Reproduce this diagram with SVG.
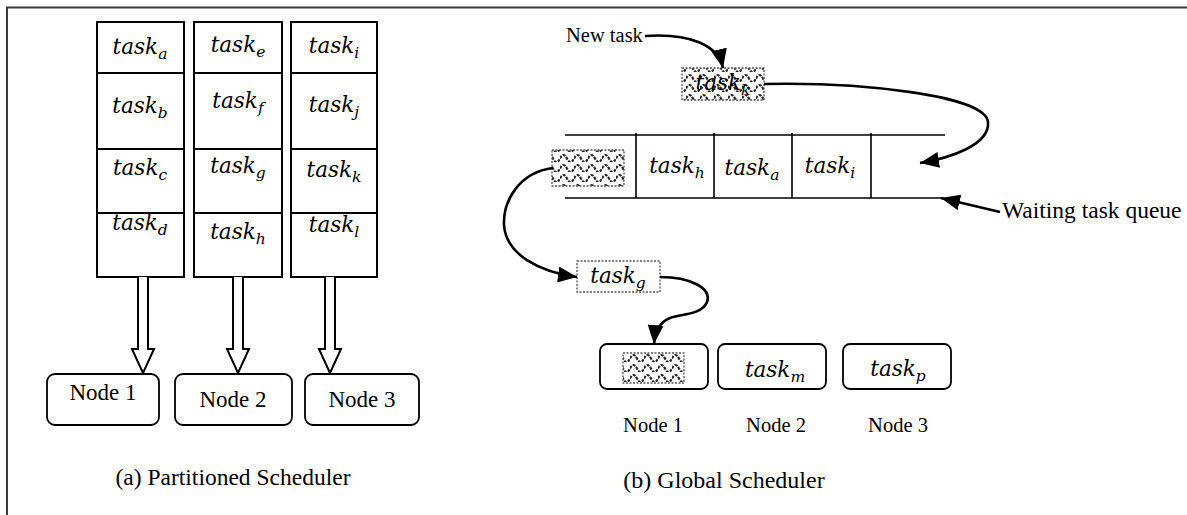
<svg xmlns="http://www.w3.org/2000/svg" width="1187" height="515" viewBox="0 0 1187 515">
  <style>
    .frame { stroke: #3a3a3a; stroke-width: 2; fill: none; }
    .box { fill: #fff; stroke: #000; stroke-width: 2; }
    .line { stroke: #000; stroke-width: 2; fill: none; }
    .thin { stroke: #000; stroke-width: 1.6; fill: none; }
    .node { fill: #fff; stroke: #000; stroke-width: 1.8; }
    .block { fill: #fff; stroke: #000; stroke-width: 2; stroke-linejoin: miter; }
    .dash { stroke: #555; stroke-width: 1.3; stroke-dasharray: 2 1.5; }
    .wave { fill: url(#waves); }
    .conn { stroke: #000; stroke-width: 2.6; fill: none; marker-end: url(#head); }
    .lbl { font-family: "Liberation Serif", "Times New Roman", serif; fill: #000; }
    .math { font-family: "DejaVu Serif", serif; font-style: italic; font-size: 21.5px; fill: #000; text-anchor: middle; }
    .sub { font-size: 15.5px; }
  </style>
  <defs>
    <!-- wavy hatch used for tasks in transit / placeholders -->
    <pattern id="waves" width="14" height="10" patternUnits="userSpaceOnUse" y="2">
      <rect width="14" height="10" fill="#fff"/>
      <path d="M0 6.5 Q3.5 -0.5 7 6.5 T14 6.5" fill="none" stroke="#2a2a2a" stroke-width="2.2" stroke-dasharray="3 1.2"/>
    </pattern>
    <marker id="head" markerWidth="19" markerHeight="16" refX="19" refY="8" orient="auto" markerUnits="userSpaceOnUse">
      <path d="M0,0 L19,8 L0,16 z" fill="#000"/>
    </marker>
  </defs>

  <!-- outer frame (top and left edges) -->
  <path class="frame" d="M7 515 V7.5 H1187"/>

  <!-- ===== (a) Partitioned scheduler ===== -->
  <g id="queue-node1">
    <rect class="box" x="97" y="22" width="87" height="255"/>
    <path class="line" d="M97 73 H184 M97 149 H184 M97 213 H184"/>
    <text class="math" x="140" y="54">task<tspan class="sub" dy="5">a</tspan></text>
    <text class="math" x="140" y="113">task<tspan class="sub" dy="5">b</tspan></text>
    <text class="math" x="140" y="175">task<tspan class="sub" dy="5">c</tspan></text>
    <text class="math" x="140" y="230">task<tspan class="sub" dy="5">d</tspan></text>
  </g>
  <g id="queue-node2">
    <rect class="box" x="194" y="22" width="88" height="255"/>
    <path class="line" d="M194 73 H282 M194 149 H282 M194 213 H282"/>
    <text class="math" x="238" y="52">task<tspan class="sub" dy="5">e</tspan></text>
    <text class="math" x="238" y="108">task<tspan class="sub" dy="5">f</tspan></text>
    <text class="math" x="238" y="173">task<tspan class="sub" dy="5">g</tspan></text>
    <text class="math" x="238" y="239">task<tspan class="sub" dy="5">h</tspan></text>
  </g>
  <g id="queue-node3">
    <rect class="box" x="291" y="22" width="86" height="255"/>
    <path class="line" d="M291 73 H377 M291 149 H377 M291 213 H377"/>
    <text class="math" x="334" y="53">task<tspan class="sub" dy="5">i</tspan></text>
    <text class="math" x="334" y="112">task<tspan class="sub" dy="5">j</tspan></text>
    <text class="math" x="334" y="177">task<tspan class="sub" dy="5">k</tspan></text>
    <text class="math" x="334" y="232">task<tspan class="sub" dy="5">l</tspan></text>
  </g>

  <g id="a-node1">
    <rect class="node" x="47" y="374" width="112" height="51" rx="8"/>
    <text class="lbl" x="103" y="400" font-size="23" text-anchor="middle">Node 1</text>
  </g>
  <g id="a-node2">
    <rect class="node" x="175" y="374" width="117" height="51" rx="8"/>
    <text class="lbl" x="233" y="407" font-size="23" text-anchor="middle">Node 2</text>
  </g>
  <g id="a-node3">
    <rect class="node" x="305" y="374" width="114" height="51" rx="8"/>
    <text class="lbl" x="362" y="407" font-size="23" text-anchor="middle">Node 3</text>
  </g>

  <!-- hollow block arrows: each queue feeds its own node -->
  <g id="a-connectors">
    <path class="block" d="M138 277 V349 H132 L143 373 L154 349 H148 V277"/>
    <path class="block" d="M233 277 V349 H227 L238 373 L249 349 H243 V277"/>
    <path class="block" d="M325 277 V349 H319 L330 373 L341 349 H335 V277"/>
  </g>

  <text class="lbl" x="233" y="485" font-size="23.5" text-anchor="middle">(a) Partitioned Scheduler</text>

  <!-- ===== (b) Global scheduler ===== -->
  <g id="new-task-label">
    <text class="lbl" x="566" y="42" font-size="20.5">New task</text>
  </g>

  <g id="task-k">
    <rect class="wave" x="682" y="68" width="82" height="32"/>
    <rect class="dash" fill="none" x="682" y="68" width="82" height="32"/>
    <text class="math" x="723" y="90">task<tspan class="sub" dy="5">k</tspan></text>
  </g>

  <g id="waiting-queue">
    <path class="thin" d="M565 135 H945 M565 198 H941"/>
    <path class="thin" d="M636 133 V198 M714 133 V198 M792 133 V198 M871 133 V198"/>
    <rect class="wave" x="552" y="150" width="72" height="36"/>
    <rect class="dash" fill="none" x="552" y="150" width="72" height="36"/>
    <text class="math" x="677" y="173">task<tspan class="sub" dy="5">h</tspan></text>
    <text class="math" x="752" y="175">task<tspan class="sub" dy="5">a</tspan></text>
    <text class="math" x="830" y="173">task<tspan class="sub" dy="5">i</tspan></text>
  </g>

  <g id="queue-label">
    <text class="lbl" x="1002" y="218" font-size="23.5">Waiting task queue</text>
  </g>

  <g id="task-g">
    <rect class="dash" fill="#fff" x="577" y="261" width="83" height="31"/>
    <text class="math" x="618" y="283">task<tspan class="sub" dy="5">g</tspan></text>
  </g>

  <g id="b-node1">
    <rect class="node" x="600" y="344" width="108" height="45" rx="7"/>
    <rect class="wave" x="623" y="353" width="61" height="30"/>
    <rect class="dash" fill="none" x="623" y="353" width="61" height="30"/>
  </g>
  <g id="b-node2">
    <rect class="node" x="718" y="344" width="108" height="45" rx="7"/>
    <text class="math" x="775" y="377">task<tspan class="sub" dy="5">m</tspan></text>
  </g>
  <g id="b-node3">
    <rect class="node" x="843" y="344" width="108" height="45" rx="7"/>
    <text class="math" x="898" y="376">task<tspan class="sub" dy="5">p</tspan></text>
  </g>

  <text class="lbl" x="653" y="432" font-size="20.5" text-anchor="middle">Node 1</text>
  <text class="lbl" x="776" y="432" font-size="20.5" text-anchor="middle">Node 2</text>
  <text class="lbl" x="898" y="432" font-size="20.5" text-anchor="middle">Node 3</text>

  <g id="b-connectors">
    <path class="conn" d="M645 36 C690 33 718 45 723 68"/>
    <path class="conn" d="M764 84 C860 82 985 95 988 122 C990 145 950 158 920 163"/>
    <path class="conn" d="M1000 212 L941 198"/>
    <path class="conn" d="M553 168 C520 172 503 200 504 225 C506 255 540 272 577 277"/>
    <path class="conn" d="M660 277 C690 277 712 288 707 302 C702 315 680 314 670 318 C660 322 655 332 654 344"/>
  </g>

  <text class="lbl" x="724" y="488" font-size="24" text-anchor="middle">(b) Global Scheduler</text>
</svg>
